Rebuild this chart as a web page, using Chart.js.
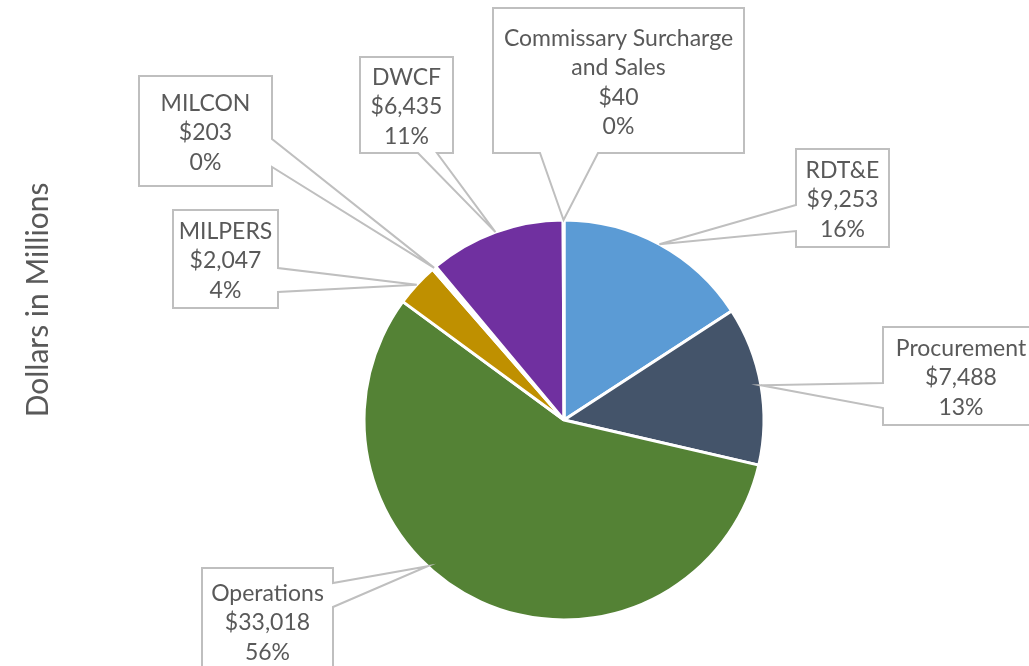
<!DOCTYPE html>
<html><head><meta charset="utf-8">
<script src="https://cdn.jsdelivr.net/npm/chart.js@4/dist/chart.umd.min.js"></script>
<style>html,body{margin:0;padding:0;background:#fff;overflow:hidden;} #wrap{width:1029px;height:666px;position:relative;}</style>
</head><body><div id="wrap"><canvas id="c" width="1029" height="666"></canvas></div>
<script>
const categories = ['RDT&E', 'Procurement', 'Operations', 'MILPERS', 'MILCON', 'DWCF', ['Commissary Surcharge', 'and Sales']];
const values = [9253, 7488, 33018, 2047, 203, 6435, 40];
const axisTitle = 'Dollars in Millions';
const colors = ['#5B9BD5', '#44546A', '#548235', '#BF9000', '#FFFFFF', '#7030A0', '#FFFFFF'];

// callout layout (pixels): box [x,y,w,h], side of wedge, wedge base, optional tip angle (deg clockwise from top)
const callouts = [
  {box: [796, 149, 93, 98], side: 'left', base: [205, 231]},
  {box: [883, 327, 156, 98], side: 'left', base: [383, 408]},
  {box: [202, 568, 131, 106], side: 'right', base: [583, 607], angle: 223},
  {box: [173, 210, 105, 98], side: 'right', base: [268, 292]},
  {box: [139, 76, 133, 110], side: 'right', base: [139, 167]},
  {box: [360, 57, 93, 96], side: 'bottom', base: [418, 437]},
  {box: [493, 8, 251, 145], side: 'bottom', base: [540, 598]}
];

const FONT = 'Lato, "Open Sans", sans-serif';
const TEXT_COLOR = '#595959';

const calloutPlugin = {
  id: 'callouts',
  afterDraw(chart) {
    const ctx = chart.ctx;
    const meta = chart.getDatasetMeta(0);
    const total = values.reduce((a, b) => a + b, 0);
    ctx.save();
    meta.data.forEach((arc, i) => {
      const c = callouts[i];
      const p = arc.getProps(['x', 'y', 'startAngle', 'endAngle', 'outerRadius'], true);
      const ang = (c.angle != null) ? (c.angle - 90) * Math.PI / 180 : (p.startAngle + p.endAngle) / 2;
      const tx = p.x + p.outerRadius * Math.cos(ang);
      const ty = p.y + p.outerRadius * Math.sin(ang);
      const [x, y, w, h] = c.box;
      const [a, b] = c.base;
      let pts;
      if (c.side === 'left') {
        pts = [[x, y], [x + w, y], [x + w, y + h], [x, y + h], [x, b], [tx, ty], [x, a]];
      } else if (c.side === 'right') {
        pts = [[x, y], [x + w, y], [x + w, a], [tx, ty], [x + w, b], [x + w, y + h], [x, y + h]];
      } else {
        pts = [[x, y], [x + w, y], [x + w, y + h], [b, y + h], [tx, ty], [a, y + h], [x, y + h]];
      }
      ctx.beginPath();
      pts.forEach((pt, k) => k ? ctx.lineTo(pt[0], pt[1]) : ctx.moveTo(pt[0], pt[1]));
      ctx.closePath();
      ctx.fillStyle = '#FFFFFF';
      ctx.fill();
      ctx.strokeStyle = '#BFBFBF';
      ctx.lineWidth = 2;
      ctx.lineJoin = 'miter';
      ctx.stroke();

      const lab = chart.data.labels[i];
      const lines = (Array.isArray(lab) ? lab.slice() : [lab]);
      lines.push('$' + values[i].toLocaleString('en-US'));
      lines.push(Math.round(values[i] / total * 100) + '%');
      const lh = 29.3;
      const cx = x + w / 2, cy = y + h / 2 + 2;
      ctx.fillStyle = TEXT_COLOR;
      ctx.font = '23px ' + FONT;
      ctx.textAlign = 'center';
      ctx.textBaseline = 'middle';
      lines.forEach((t, k) => ctx.fillText(t, cx, cy - (lines.length - 1) * lh / 2 + k * lh));
    });
    // axis title
    ctx.translate(38, 300);
    ctx.rotate(-Math.PI / 2);
    ctx.font = '30px ' + FONT;
    ctx.fillStyle = TEXT_COLOR;
    ctx.textAlign = 'center';
    ctx.textBaseline = 'middle';
    ctx.fillText(axisTitle, 0, 0);
    ctx.restore();
  }
};

new Chart(document.getElementById('c'), {
  type: 'pie',
  data: {
    labels: categories,
    datasets: [{
      data: values,
      backgroundColor: colors,
      borderColor: '#FFFFFF',
      borderWidth: 3
    }]
  },
  options: {
    responsive: false,
    animation: false,
    radius: 200,
    layout: {padding: {left: 362, right: 263, top: 218, bottom: 44}},
    plugins: {legend: {display: false}, tooltip: {enabled: false}, title: {display: false}}
  },
  plugins: [calloutPlugin]
});
</script>
</body></html>
